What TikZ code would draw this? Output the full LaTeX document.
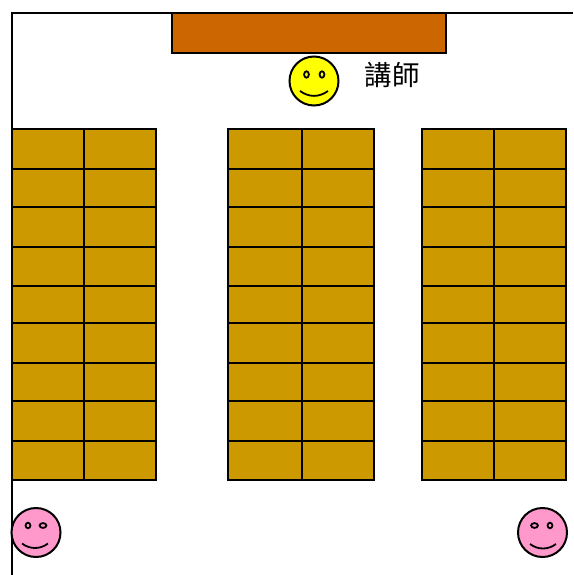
\documentclass[tikz,border=0pt]{standalone}
\usepackage{xcolor}
\usepackage{fontspec}
\newfontfamily\cjk{Noto Sans CJK TC}
\definecolor{cDesk}{HTML}{CC9900}
\definecolor{cPodium}{HTML}{CC6600}
\definecolor{cTeacher}{HTML}{FFFF00}
\definecolor{cStudent}{HTML}{FF99CC}
\usetikzlibrary{positioning}
\tikzset{
  wall/.style={draw=black,line width=2pt},
  node-desk/.style={draw=black,line width=2pt,fill=cDesk},
  node-podium/.style={draw=black,line width=2pt,fill=cPodium,
    minimum width=274pt,minimum height=40pt,inner sep=0pt,outer sep=0pt},
  node-face/.style={draw=black,line width=2pt,circle,minimum size=49pt,
    inner sep=0pt,outer sep=0pt},
  node-label/.style={inner sep=0pt,font=\cjk\fontsize{27.5}{30}\selectfont},
  face-line/.style={draw=black,line width=1.8pt},
}
\begin{document}
\begin{tikzpicture}[x=1pt,y=-1pt]
  \useasboundingbox (0,0) rectangle (573,575);
  \draw[wall] (573,13.5) -- (12,13.5) -- (12,575);
  \node[node-podium] (podium) at (309,33.5) {};
  % desks: left edge, middle line, right edge of each block
  \foreach \xa/\xb/\xc in {12/84/156,228/302/374,422/494/566} {
    \foreach \ya/\yb in {129.2/168.8,168.8/207.3,207.3/246.8,246.8/285.8,285.8/323.3,
        323.3/363.3,363.3/401.3,401.3/441.3,441.3/479.8} {
      \draw[node-desk] (\xa,\ya) rectangle (\xb,\yb);
      \draw[node-desk] (\xb,\ya) rectangle (\xc,\yb);
    }
  }
  % teacher
  \node[node-face,fill=cTeacher] (teacher) at (314,81) {};
  \node[node-label,right=26pt of teacher,yshift=6.5pt] (teacherlabel) {講師};
  \draw[face-line] (306.5,74.5) ellipse (2.4pt and 3.2pt);
  \draw[face-line] (322,74.5) ellipse (2.4pt and 3.2pt);
  \draw[face-line] (300,91) .. controls (309,97.5) and (319,97.5) .. (328,91);
  % students
  \node[node-face,fill=cStudent] (studentl) at (36,532.5) {};
  \draw[face-line] (28,525.5) ellipse (2.4pt and 2.8pt);
  \draw[face-line] (43,525.5) ellipse (3.4pt and 2.4pt);
  \draw[face-line] (22,543.5) .. controls (30,549.5) and (40,549.5) .. (48,543.5);
  \node[node-face,fill=cStudent] (studentr) at (542.5,532.5) {};
  \draw[face-line] (534.5,525.5) ellipse (3.4pt and 2.4pt);
  \draw[face-line] (550,525.5) ellipse (2.4pt and 2.8pt);
  \draw[face-line] (530,544) .. controls (538,550) and (548,550) .. (556,544);
\end{tikzpicture}
\end{document}
